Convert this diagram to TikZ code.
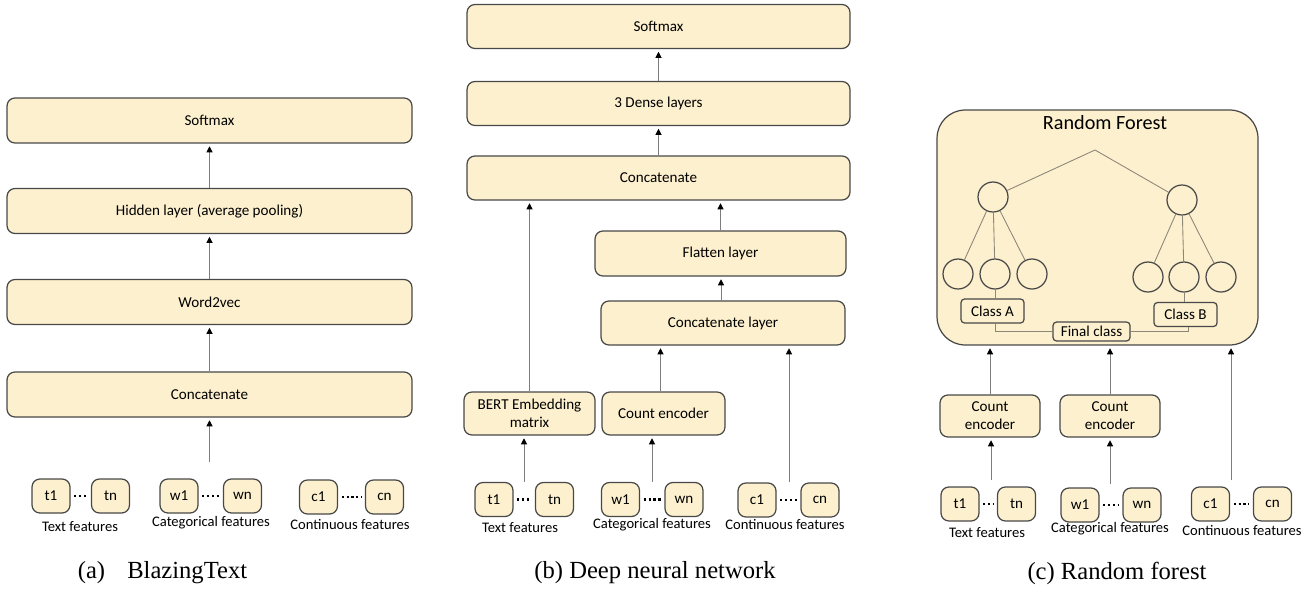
\documentclass[tikz,border=0pt]{standalone}
\usepackage{fontspec}
\usepackage{xcolor}
\setmainfont{Liberation Serif}
\newfontfamily\boxfont{Carlito}
\usetikzlibrary{arrows.meta}

\definecolor{boxfill}{RGB}{253,240,206}
\definecolor{boxline}{RGB}{72,72,72}
\definecolor{arrline}{RGB}{125,125,125}
\definecolor{treeline}{RGB}{140,135,120}

% two feature boxes joined by dots
\newcommand{\featpair}[5]{%
  \node[feat] (#1l) at (#2,#4) {#51};
  \node[feat] (#1r) at (#3,#4) {#5n};
  \draw[dotjoin] (#1l) -- (#1r);
}

\begin{document}
\begin{tikzpicture}[x=0.02cm, y=-0.02cm,
    layer/.style={draw=boxline, fill=boxfill, line width=0.7pt, rounded corners=4.5pt,
      inner sep=0pt, align=center, font=\boxfont\fontsize{8.6}{10.2}\selectfont},
    feat/.style={layer, minimum width=0.76cm, minimum height=0.68cm},
    featlbl/.style={font=\boxfont\fontsize{8.3}{9.6}\selectfont, inner sep=0pt},
    dotjoin/.style={black, line width=1.2pt, dash pattern=on 1.2pt off 1.6pt, shorten <=2pt, shorten >=2pt},
    arr/.style={draw=arrline, line width=0.55pt, shorten >=1.5pt,
      -{Triangle[color=black, length=3.5pt, width=3.5pt]}},
    leaf/.style={circle, draw=boxline, fill=boxfill, line width=0.7pt, minimum size=0.6cm, inner sep=0pt},
    branch/.style={draw=treeline, line width=0.5pt},
    caption/.style={font=\fontsize{14}{16}\selectfont, inner sep=0pt}]

  \useasboundingbox (0,0) rectangle (1310,592);

  % (a) BlazingText
  \node[layer, minimum width=8.1cm, minimum height=0.9cm] (asoft) at (209.5,120.5) {Softmax};
  \node[layer, minimum width=8.1cm, minimum height=0.9cm] (ahidden) at (209.5,211) {Hidden layer (average pooling)};
  \node[layer, minimum width=8.1cm, minimum height=0.9cm] (aword) at (209.5,302) {Word2vec};
  \node[layer, minimum width=8.1cm, minimum height=0.9cm] (aconcat) at (209.5,394.5) {Concatenate};
  \coordinate (ain) at (209.5,462);

  \featpair{at}{51}{110.5}{496}{t}
  \featpair{aw}{179}{242.5}{496}{w}
  \featpair{ac}{318.5}{384.5}{497}{c}
  \node[featlbl] (atlbl) at (80,527) {Text features};
  \node[featlbl] (awlbl) at (211,523) {Categorical features};
  \node[featlbl] (aclbl) at (350,525) {Continuous features};

  \draw[arr] (ain) -- (aconcat);
  \draw[arr] (aconcat) -- (aword);
  \draw[arr] (aword) -- (ahidden);
  \draw[arr] (ahidden) -- (asoft);

  \node[caption] (acap) at (162.5,573) {(a)\hspace{0.9em}BlazingText};

  % (b) Deep neural network
  \node[layer, minimum width=7.66cm, minimum height=0.88cm] (bsoft) at (658.5,26.5) {Softmax};
  \node[layer, minimum width=7.66cm, minimum height=0.88cm] (bdense) at (658.5,103.5) {3 Dense layers};
  \node[layer, minimum width=7.66cm, minimum height=0.88cm] (bconcat) at (658.5,178) {Concatenate};
  \node[layer, minimum width=5.02cm, minimum height=0.9cm] (bflat) at (720.5,253.5) {Flatten layer};
  \node[layer, minimum width=4.88cm, minimum height=0.88cm] (bclayer) at (723,323) {Concatenate layer};
  \node[layer, minimum width=2.62cm, minimum height=0.86cm] (bbert) at (529.5,413.5) {BERT Embedding\\matrix};
  \node[layer, minimum width=2.46cm, minimum height=0.86cm] (bcount) at (663.5,413.5) {Count encoder};
  \coordinate (btin) at (524,482);
  \coordinate (bwin) at (652,482);
  \coordinate (bcin) at (789,482);

  \featpair{bt}{494}{554.5}{499.5}{t}
  \featpair{bw}{620.5}{684}{499.5}{w}
  \featpair{bc}{757}{820}{500}{c}
  \node[featlbl] (btlbl) at (520,528) {Text features};
  \node[featlbl] (bwlbl) at (652,525) {Categorical features};
  \node[featlbl] (bclbl) at (785,525) {Continuous features};

  \draw[arr] (btin) -- (btin |- bbert.south);
  \draw[arr] (bwin) -- (bwin |- bcount.south);
  \draw[arr] (bcin) -- (bcin |- bclayer.south);
  \draw[arr] (bbert.north) -- (bbert.north |- bconcat.south);
  \draw[arr] (bcount.north) ++(-3,0) coordinate (bcup) -- (bcup |- bclayer.south);
  \draw[arr] (bclayer.north) ++(-2,0) coordinate (bclup) -- (bclup |- bflat.south);
  \draw[arr] (bflat.north) -- (bflat.north |- bconcat.south);
  \draw[arr] (bconcat) -- (bdense);
  \draw[arr] (bdense) -- (bsoft);

  \node[caption] (bcap) at (655,573) {(b) Deep neural network};

  % (c) Random forest
  \node[draw=boxline, fill=boxfill, line width=0.7pt, rounded corners=16pt,
    minimum width=6.42cm, minimum height=4.7cm] (rf) at (1097.5,227.5) {};
  \node[font=\boxfont\fontsize{11.5}{13}\selectfont, inner sep=0pt] (rftitle) at (1105,123) {Random Forest};
  \coordinate (root) at (1095,150);
  \node[leaf] (tl) at (993,197) {};
  \node[leaf] (tr) at (1182,200) {};
  \node[leaf] (l1) at (958,274) {};
  \node[leaf] (l2) at (995,274) {};
  \node[leaf] (l3) at (1032,274) {};
  \node[leaf] (r1) at (1148,277) {};
  \node[leaf] (r2) at (1184,277) {};
  \node[leaf] (r3) at (1221,277) {};
  \node[layer, rounded corners=2pt, minimum width=1.26cm, minimum height=0.48cm] (classa) at (992.5,311) {Class A};
  \node[layer, rounded corners=2pt, minimum width=1.26cm, minimum height=0.48cm] (classb) at (1185.5,314.5) {Class B};
  \node[layer, rounded corners=2pt, minimum width=1.54cm, minimum height=0.38cm] (final) at (1091.5,331.5) {Final class};

  \draw[branch] (root) -- (tl);
  \draw[branch] (root) -- (tr);
  \foreach \k in {l1,l2,l3} \draw[branch] (tl) -- (\k);
  \foreach \k in {r1,r2,r3} \draw[branch] (tr) -- (\k);
  \draw[branch] (l2.south) -- (l2.south |- classa.north);
  \draw[branch] (r2.south) -- (r2.south |- classb.north);
  \draw[branch] (classa.south) ++(3,0) |- (final.west);
  \draw[branch] (classb.south) ++(3,0) |- (final.east);

  \node[layer, minimum width=2cm, minimum height=0.84cm] (cenc1) at (990,416) {Count\\encoder};
  \node[layer, minimum width=2cm, minimum height=0.84cm] (cenc2) at (1110,416) {Count\\encoder};
  \coordinate (ctin) at (991,480);
  \coordinate (cwin) at (1110,484);
  \coordinate (ccin) at (1231,480);

  \featpair{ct}{960}{1016.5}{504}{t}
  \featpair{cw}{1080}{1142}{505}{w}
  \featpair{cc}{1210.5}{1272.5}{504}{c}
  \node[featlbl] (ctlbl) at (987,533) {Text features};
  \node[featlbl] (cwlbl) at (1110,529) {Categorical features};
  \node[featlbl] (cclbl) at (1242,531) {Continuous features};

  \draw[arr] (ctin) -- (ctin |- cenc1.south);
  \draw[arr] (cwin) -- (cwin |- cenc2.south);
  \draw[arr] (cenc1.north) -- (cenc1.north |- rf.south);
  \draw[arr] (cenc2.north) -- (cenc2.north |- rf.south);
  \draw[arr] (ccin) -- (ccin |- rf.south);

  \node[caption] (ccap) at (1117,573) {(c) Random forest};
\end{tikzpicture}
\end{document}
